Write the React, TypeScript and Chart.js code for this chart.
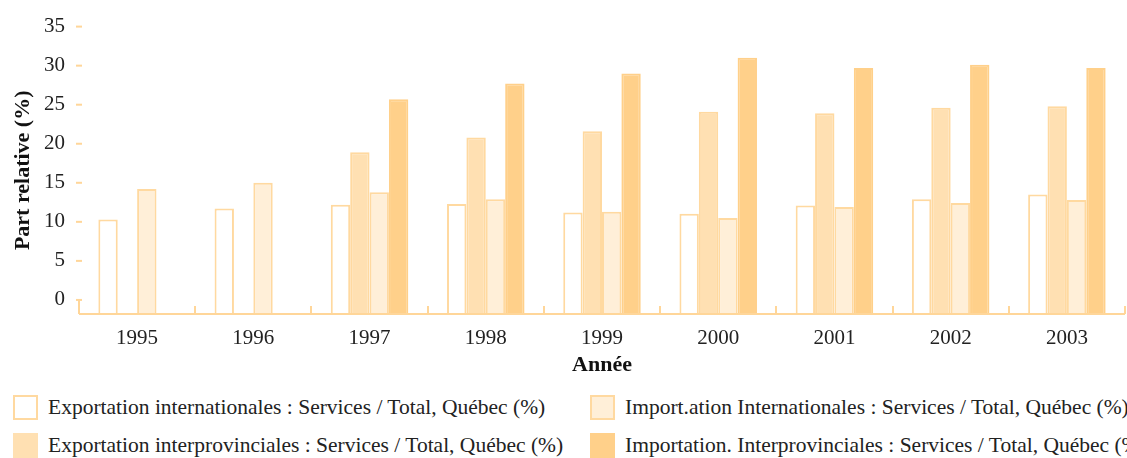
import React, { useEffect, useRef } from "react";
import { Chart, registerables } from "chart.js";

Chart.register(...registerables);

const categories = ["1995", "1996", "1997", "1998", "1999", "2000", "2001", "2002", "2003"];
const exportIntl = [10.3, 11.7, 12.2, 12.3, 11.2, 11.05, 12.1, 12.9, 13.5];
const exportInterprov = [null, null, 18.9, 20.8, 21.6, 24.1, 23.9, 24.6, 24.8];
const importIntl = [14.2, 15.0, 13.8, 12.9, 11.3, 10.5, 11.9, 12.4, 12.8];
const importInterprov = [null, null, 25.7, 27.7, 29.0, 31.0, 29.7, 30.1, 29.7];
const yTicks = [0, 5, 10, 15, 20, 25, 30, 35];

const labels = {
  exportIntl: "Exportation internationales : Services / Total, Québec (%)",
  importIntl: "Import.ation Internationales : Services / Total, Québec (%)",
  exportInterprov: "Exportation interprovinciales : Services / Total, Québec (%)",
  importInterprov: "Importation. Interprovinciales : Services / Total, Québec (%)",
};

const Y_MIN = -1.8;
const Y_MAX = 35;
const FONT = "'Liberation Serif', 'Times New Roman', serif";
const AXIS_COLOR = "#FFD699";
const C_WHITE = "#FFFFFF";
const C_LIGHT = "#FFEFD8";
const C_MED = "#FFE0B2";
const C_STRONG = "#FFD08A";
const BORDER = "#FFD9A0";

const axisPlugin = {
  id: "customAxis",
  afterDatasetsDraw(chart: any) {
    const { ctx, chartArea, scales } = chart;
    const y = scales.y;
    ctx.save();
    ctx.strokeStyle = AXIS_COLOR;
    ctx.lineWidth = 2;
    ctx.beginPath();
    ctx.moveTo(chartArea.left, chartArea.bottom);
    ctx.lineTo(chartArea.right, chartArea.bottom);
    ctx.stroke();
    const n = categories.length;
    const w = (chartArea.right - chartArea.left) / n;
    for (let i = 0; i <= n; i++) {
      const px = Math.round(chartArea.left + i * w);
      const top = i === 0 ? y.getPixelForValue(0) : chartArea.bottom - 8;
      ctx.beginPath();
      ctx.moveTo(px, top);
      ctx.lineTo(px, chartArea.bottom);
      ctx.stroke();
    }
    yTicks.forEach((v) => {
      const py = y.getPixelForValue(v);
      ctx.beginPath();
      ctx.moveTo(chartArea.left - 3, py);
      ctx.lineTo(chartArea.left + 3, py);
      ctx.stroke();
    });
    ctx.restore();
  },
};

export default function App() {
  const ref = useRef<HTMLCanvasElement>(null);

  useEffect(() => {
    document.body.style.margin = "0";
    const ds = (label: string, data: any[], fill: string, border: string) => ({
      label,
      data,
      backgroundColor: fill,
      borderColor: border,
      borderWidth: 2,
      base: Y_MIN,
      categoryPercentage: 0.667,
      barPercentage: 1,
    });
    const chart = new Chart(ref.current!, {
      type: "bar",
      data: {
        labels: categories,
        datasets: [
          ds(labels.exportIntl, exportIntl, C_WHITE, BORDER),
          ds(labels.exportInterprov, exportInterprov, C_MED, BORDER),
          ds(labels.importIntl, importIntl, C_LIGHT, BORDER),
          ds(labels.importInterprov, importInterprov, C_STRONG, C_STRONG),
        ],
      },
      options: {
        animation: false,
        responsive: false,
        maintainAspectRatio: false,
        layout: { padding: { top: 22, right: 2, left: 0, bottom: 0 } },
        plugins: { legend: { display: false }, tooltip: { enabled: false } },
        scales: {
          x: {
            grid: { display: false, drawTicks: false },
            border: { display: false },
            ticks: { color: "#222", font: { family: FONT, size: 21 }, padding: 12, maxRotation: 0 },
            title: {
              display: true,
              text: "Année",
              color: "#111",
              font: { family: FONT, size: 22, weight: "bold" },
              padding: { top: 0, bottom: 6 },
            },
            afterFit(scale: any) {
              scale.height = 71;
            },
          },
          y: {
            min: Y_MIN,
            max: Y_MAX,
            grid: { display: false, drawTicks: false },
            border: { display: false },
            afterBuildTicks(scale: any) {
              scale.ticks = yTicks.map((v) => ({ value: v }));
            },
            ticks: { color: "#222", font: { family: FONT, size: 21 }, padding: 14 },
            title: {
              display: true,
              text: "Part relative (%)",
              color: "#111",
              font: { family: FONT, size: 22, weight: "bold" },
              padding: { top: 10, bottom: 0 },
            },
            afterFit(scale: any) {
              scale.width = 79;
            },
          },
        },
      },
      plugins: [axisPlugin],
    });
    let alive = true;
    const fonts = (document as any).fonts;
    if (fonts && fonts.load) {
      Promise.all([
        fonts.load("21px 'Liberation Serif'"),
        fonts.load("bold 22px 'Liberation Serif'"),
      ])
        .then(() => {
          if (alive) chart.update();
        })
        .catch(() => {});
    }
    return () => {
      alive = false;
      chart.destroy();
    };
  }, []);

  const legendItems = [
    { text: labels.exportIntl, fill: C_WHITE, border: BORDER, left: 13, top: 395 },
    { text: labels.importIntl, fill: C_LIGHT, border: BORDER, left: 590, top: 395 },
    { text: labels.exportInterprov, fill: C_MED, border: C_MED, left: 13, top: 433 },
    { text: labels.importInterprov, fill: C_STRONG, border: C_STRONG, left: 590, top: 433 },
  ];

  return (
    <div style={{ position: "relative", width: 1127, height: 458, overflow: "hidden", background: "#fff" }}>
      <canvas ref={ref} width={1127} height={385} style={{ display: "block", width: 1127, height: 385 }} />
      {legendItems.map((it, i) => (
        <div
          key={i}
          style={{
            position: "absolute",
            left: it.left,
            top: it.top,
            height: 25,
            display: "flex",
            alignItems: "center",
            whiteSpace: "nowrap",
            fontFamily: FONT,
            fontSize: 21.5,
            color: "#222",
          }}
        >
          <span
            style={{
              display: "inline-block",
              boxSizing: "border-box",
              width: 25,
              height: 25,
              background: it.fill,
              border: `2px solid ${it.border}`,
              marginRight: 10,
            }}
          />
          <span>{it.text}</span>
        </div>
      ))}
    </div>
  );
}
